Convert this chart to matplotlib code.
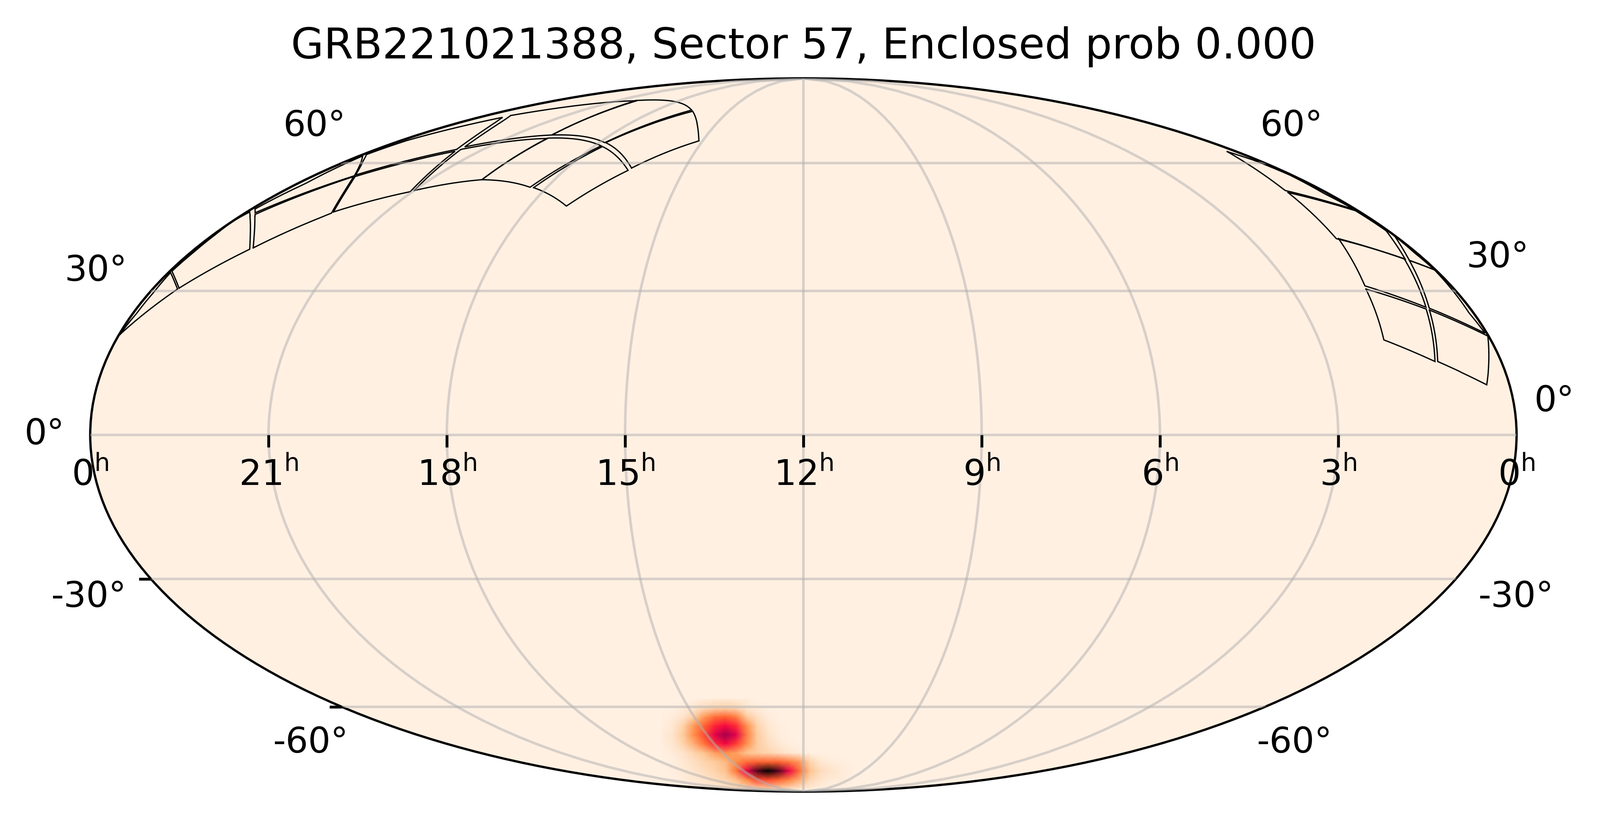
import numpy as np
import matplotlib
matplotlib.use('Agg')
import matplotlib.pyplot as plt
from matplotlib.colors import LinearSegmentedColormap
from matplotlib.markers import TICKDOWN, TICKLEFT

TITLE = 'GRB221021388, Sector 57, Enclosed prob 0.000'
ra_tick_hours = [21, 18, 15, 12, 9, 6, 3]
dec_tick_degrees = [-30, -60]

# Footprint vertices (RA, Dec in degrees). Edges between vertices are great circles on the sky.
footprints = [
    [(359.8,20.7),(353.1,30.4),(359.4,34.0),(358.9,29.7),(359.0,25.2)],
    [(352.9,30.6),(343.7,39.2),(359.1,47.8),(359.9,45.6),(359.4,42.6),(359.2,38.5),(359.4,34.3)],
    [(343.1,39.5),(332.1,47.5),(344.7,56.5),(356.1,47.2)],
    [(332.0,47.8),(315.7,52.7),(325.1,63.2),(344.2,56.5)],
    [(314.9,53.0),(296.2,55.7),(296.2,66.8),(324.3,63.7)],
    [(296.2,55.7),(275.9,53.8),(267.2,64.7),(296.5,66.9)],
    [(274.5,53.7),(258.0,49.2),(246.0,58.1),(266.2,64.5)],
    [(245.4,58.7),(226.6,66.1),(246.6,75.2),(267.1,65.6)],
    [(346.2,73.8),(300.6,78.9),(297.5,67.8),(325.0,64.4)],
    [(301.7,79.0),(248.4,75.6),(267.5,65.6),(297.3,67.8)],
    [(326.1,63.7),(347.0,73.2),(352.5,70.2),(357.4,66.2),(358.5,62.3),(353.7,60.6),(345.1,56.9)],
    [(358.6,61.9),(345.0,56.7),(356.9,47.6),(358.9,48.5),(357.2,54.7)],
    [(24.4,30.4),(28.0,19.6),(17.1,15.1),(12.0,26.1)],
    [(11.3,25.9),(16.4,15.1),(5.8,10.3),(0.2,20.4)],
    [(18.2,41.6),(24.0,31.1),(11.7,26.5),(5.6,37.0)],
    [(4.6,36.7),(11.0,26.3),(0.5,21.0),(1.2,25.2),(0.8,29.7),(0.3,34.6)],
    [(13.2,52.5),(18.9,41.6),(5.4,37.0),(0.6,43.4),(0.8,48.1)],
    [(0.2,42.2),(4.6,36.7),(0.3,34.6),(0.6,38.4)],
    [(3.8,63.1),(13.0,53.0),(0.5,48.4),(1.4,52.2),(0.7,56.8),(1.7,60.8)],
]

# Probability, rows from north to south.
heat_values = [
    [0,0,0,0,.02,.03,.04,.03,.02,0,0,0,0,0,0,0,0,0,0],
    [0,0,.02,.05,.10,.13,.14,.12,.05,.02,0,0,0,0,0,0,0,0,0],
    [0,.02,.06,.15,.28,.36,.38,.33,.18,.08,.02,0,0,0,0,0,0,0,0],
    [.01,.04,.14,.28,.38,.47,.52,.46,.30,.14,.05,.01,0,0,0,0,0,0,0],
    [.02,.06,.17,.30,.42,.57,.68,.57,.33,.17,.07,.02,0,0,0,0,0,0,0],
    [.01,.05,.13,.24,.35,.46,.53,.44,.30,.17,.09,.04,.01,0,0,0,0,0,0],
    [0,.02,.06,.13,.20,.27,.30,.27,.20,.16,.13,.09,.05,.02,0,0,0,0,0],
    [0,.01,.04,.08,.13,.17,.22,.30,.36,.38,.38,.38,.34,.28,.13,.05,.02,.01,0],
    [0,.01,.03,.06,.10,.14,.20,.34,.55,.85,1.0,.85,.55,.36,.20,.10,.06,.03,.01],
    [0,0,.02,.04,.06,.09,.13,.20,.30,.42,.42,.38,.32,.24,.12,.06,.03,.02,0],
    [0,0,0,.01,.02,.04,.06,.08,.10,.14,.17,.14,.10,.05,.03,.01,0,0,0],
]
heat_axes_left, heat_axes_right = 0.4008, 0.5344
heat_axes_bottom, heat_axes_top = 0.0037, 0.1300

cylon_stops = [(0.0, '#fff0e2'), (0.1, '#fedcbc'), (0.2, '#fdc490'), (0.3, '#ff8f4a'),
               (0.4, '#ff5a2a'), (0.5, '#ff0a3c'), (0.6, '#d40055'), (0.7, '#9c004a'),
               (0.85, '#500020'), (1.0, '#000000')]
cylon = LinearSegmentedColormap.from_list('cylon', cylon_stops)


def great_circle(p, q, n=24):
    """Points on the great circle between two sky positions (degrees)."""
    def vec(v):
        ra, dec = np.radians(v)
        return np.array([np.cos(dec) * np.cos(ra), np.cos(dec) * np.sin(ra), np.sin(dec)])
    a, b = vec(p), vec(q)
    ang = np.arccos(np.clip(a @ b, -1, 1))
    t = np.linspace(0, 1, n)[:, None]
    pts = (np.sin((1 - t) * ang) * a + np.sin(t * ang) * b) / np.sin(ang)
    ra = np.degrees(np.arctan2(pts[:, 1], pts[:, 0])) % 360
    dec = np.degrees(np.arcsin(np.clip(pts[:, 2], -1, 1)))
    return ra, dec


W, H = 3779, 1929
DPI = 600
fig = plt.figure(figsize=(W / DPI, H / DPI), dpi=DPI)
ax = fig.add_axes([213 / W, (H - 1869) / H, 3368 / W, 1684 / H], projection='mollweide')
ax.set_facecolor(cylon(0.0))
ax.spines['geo'].set_linewidth(0.65)

ax.set_longitude_grid(45)
ax.set_latitude_grid(30)
ax.set_longitude_grid_ends(90)
ax.set_xticklabels([])
ax.set_yticklabels([])
ax.grid(True, color='#b0b0b0', linewidth=0.72, alpha=0.5)
ax.set_axisbelow(False)

rows = len(heat_values)
cols = len(heat_values[0])
gx, gy = np.meshgrid(np.linspace(heat_axes_left, heat_axes_right, cols),
                     np.linspace(heat_axes_top, heat_axes_bottom, rows))
ax.pcolormesh(gx, gy, np.array(heat_values), cmap=cylon, vmin=0, vmax=1,
              shading='gouraud', transform=ax.transAxes, zorder=1)

for tile in footprints:
    ras, decs = [], []
    for p, q in zip(tile, tile[1:] + tile[:1]):
        r, d = great_circle(p, q)
        ras.append(r)
        decs.append(d)
    ra = np.concatenate(ras)
    dec = np.concatenate(decs)
    ax.plot(np.radians(180 - ra), np.radians(dec), color='black', lw=0.36,
            solid_joinstyle='miter', zorder=2)

for h in ra_tick_hours:
    lon = np.radians(180 - 15 * h)
    ax.plot([lon], [0], marker=TICKDOWN, ms=3.5, mew=0.8, color='black', clip_on=False, zorder=6)
    ax.annotate(f'{h}$^{{\\mathrm{{h}}}}$', xy=(lon, 0), xytext=(0, -14.3),
                textcoords='offset points', ha='center', va='baseline', fontsize=10)
for lon, h in ((-np.pi, 0), (np.pi, 0)):
    ax.annotate(f'{h}$^{{\\mathrm{{h}}}}$', xy=(lon, 0), xytext=(0, -14.3),
                textcoords='offset points', ha='center', va='baseline', fontsize=10,
                annotation_clip=False)
for d in dec_tick_degrees:
    ax.plot([-np.pi], [np.radians(d)], marker=TICKLEFT, ms=3.5, mew=0.8, color='black',
            clip_on=False, zorder=6)

dec_labels = ['60°', '30°', '0°', '-30°', '-60°', '60°', '30°', '0°', '-30°', '-60°']
dec_label_px = [(742, 297), (227, 639), (105, 1025), (210, 1409), (734, 1754),
                (3049, 297), (3537, 608), (3670, 948), (3580, 1409), (3057, 1754)]
for s, (px, py) in zip(dec_labels, dec_label_px):
    fig.text(px / W, 1 - py / H, s, ha='center', va='center', fontsize=10)

ax.set_title(TITLE, fontsize=12, pad=5.6)
fig.savefig('out.png', dpi=DPI)
